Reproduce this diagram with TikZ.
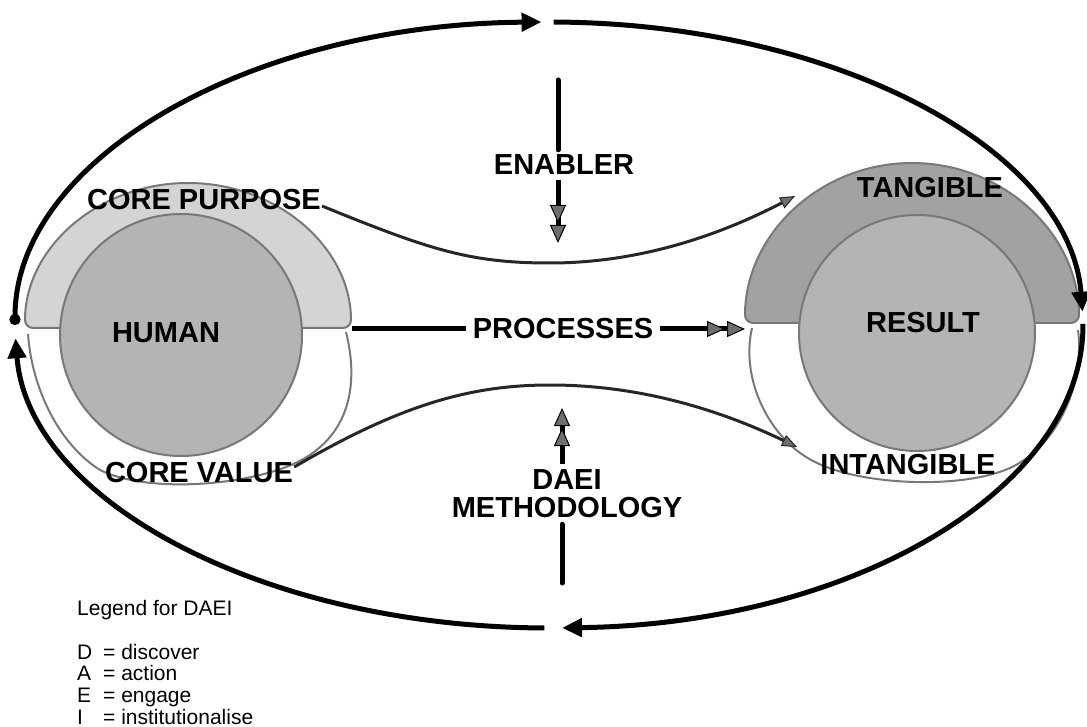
\documentclass[tikz,border=0pt]{standalone}
\usepackage{fontspec}
\setmainfont{Liberation Sans}
\usetikzlibrary{arrows.meta}
\definecolor{capgray}{HTML}{D4D4D4}
\definecolor{tangray}{HTML}{A2A2A2}
\definecolor{ballgray}{HTML}{B4B4B4}
\definecolor{edgegray}{HTML}{787878}
\definecolor{tipgray}{HTML}{6E6E6E}

\begin{document}
\begin{tikzpicture}[x=1pt, y=-1pt,
  bigtext/.style={font=\fontsize{29}{28}\selectfont\bfseries, inner sep=1pt},
  legendtext/.style={font=\fontsize{21}{21.7}\selectfont, align=left, inner sep=0pt},
  cycleline/.style={line width=5pt, -{Triangle[length=20pt,width=18pt]}},
  linkline/.style={line width=3pt, draw=black!85, -{Triangle[length=15pt,width=12pt,line width=1pt,fill=tipgray]}},
  pushline/.style={line width=5pt, -{Triangle[length=18pt,width=16pt,line width=1pt,fill=tipgray,sep=2pt] Triangle[length=18pt,width=16pt,line width=1pt,fill=tipgray]}},
  shapeline/.style={draw=edgegray, line width=2pt},
  ball/.style={circle, shapeline, fill=ballgray, inner sep=0pt}]
  \useasboundingbox (0,0) rectangle (1087,727);

  \filldraw[shapeline, fill=capgray, rounded corners=8pt] (25,328) arc[start angle=180, end angle=360, x radius=163, y radius=145] -- cycle;
  \filldraw[shapeline, fill=white] (346,332) .. controls (358,380) and (352,430) .. (305,458) .. controls (260,485) and (150,495) .. (100,470) .. controls (60,445) and (32,390) .. (28,334);
  \node[ball, minimum size=242pt] (human) at (181,335) {};

  \filldraw[shapeline, fill=tangray, rounded corners=8pt] (745,323) arc[start angle=180, end angle=360, x radius=167, y radius=160] -- cycle;
  \filldraw[shapeline, fill=white] (752,328) .. controls (740,380) and (770,440) .. (815,462) .. controls (860,485) and (960,490) .. (1010,468) .. controls (1060,445) and (1085,380) .. (1078,330);
  \node[ball, minimum size=236pt] (result) at (917,333) {};

  \node[bigtext] (humanlbl) at (166,333) {HUMAN};
  \node[bigtext] (resultlbl) at (923,323) {RESULT};
  \node[bigtext] (purpose) at (204,200) {CORE PURPOSE};
  \node[bigtext] (value) at (199,473) {CORE VALUE};
  \node[bigtext] (tangible) at (930,188) {TANGIBLE};
  \node[bigtext] (intangible) at (908,465) {INTANGIBLE};

  \coordinate (tangtip) at (795,196);
  \coordinate (intangtip) at (797,447);
  \draw[linkline] ([yshift=-6pt]purpose.east) .. controls (430,250) and (470,263) .. (550,263) .. controls (640,263) and (720,235) .. (tangtip);
  \draw[linkline] ([yshift=6pt]value.east) .. controls (400,405) and (470,385) .. (550,385) .. controls (640,385) and (720,410) .. (intangtip);

  \node[bigtext, inner xsep=7pt] (processes) at (563,329) {PROCESSES};
  \coordinate (procstart) at (352,329);
  \coordinate (proctip) at (745,329);
  \draw[line width=5pt] (procstart) -- (processes.west);
  \draw[pushline] (processes.east) -- (proctip);

  \node[bigtext, inner ysep=5pt] (enabler) at (564,165) {ENABLER};
  \coordinate (enabtop) at (558,80);
  \coordinate (enabtip) at (558,243);
  \draw[line width=5pt, line cap=round] (enabtop) -- (enabtop |- enabler.north);
  \draw[pushline] (enabtop |- enabler.south) -- (enabtip);

  \node[bigtext, align=center, inner ysep=6pt] (daei) at (567,494) {DAEI\\METHODOLOGY};
  \coordinate (daeibottom) at (562,583);
  \coordinate (daeitip) at (562,408);
  \draw[line width=5pt, line cap=round] (daeibottom) -- (daeibottom |- daei.south);
  \draw[pushline] (daeibottom |- daei.north) -- (daeitip);

  \coordinate (mid) at (549,325);
  \draw[cycleline, {Circle[length=11pt]}-{Triangle[length=20pt,width=18pt]}] (mid) ++(180:534 and 303) arc[start angle=180, end angle=269.2, x radius=534, y radius=303];
  \draw[cycleline] (mid) ++(270.5:534 and 303) arc[start angle=270.5, end angle=357.5, x radius=534, y radius=303];
  \draw[cycleline] (mid) ++(359.8:534 and 303) arc[start angle=359.8, end angle=448.6, x radius=534, y radius=303];
  \draw[cycleline] (mid) ++(90.5:534 and 303) arc[start angle=90.5, end angle=177.5, x radius=534, y radius=303];

  \node[legendtext, anchor=north west] (legend) at (77,600) {Legend for DAEI\\[22pt]
    \makebox[26pt][l]{D}= discover\\
    \makebox[26pt][l]{A}= action\\
    \makebox[26pt][l]{E}= engage\\
    \makebox[26pt][l]{I}= institutionalise};
\end{tikzpicture}
\end{document}
